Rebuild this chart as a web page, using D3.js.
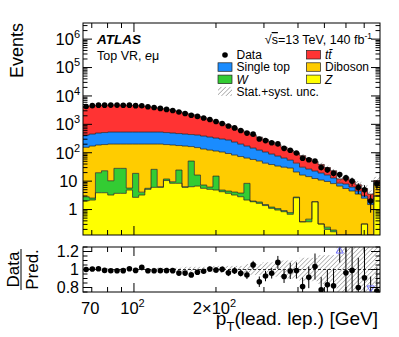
<!DOCTYPE html>
<html>
<head>
<meta charset="utf-8">
<script src="https://cdn.jsdelivr.net/npm/d3@7"></script>
<style>
  html, body { margin: 0; padding: 0; background: #fff; }
  svg { display: block; font-family: "Liberation Sans", Arial, Helvetica, sans-serif; }
</style>
</head>
<body>
<script>
//----------------- Data -----------------

const binEdges = [65, 68.5, 72.2, 76.0, 80.1, 84.4, 89.0, 93.7, 98.8, 104.1, 109.6, 115.5, 121.7, 128.3, 135.2, 142.4,
  150.1, 158.1, 166.6, 175.5, 185.0, 194.9, 205.3, 216.4, 228.0, 240.2, 253.1, 266.7, 281.0, 296.1, 312.0, 328.7,
  346.4, 365.0, 384.6, 405.2, 426.9, 449.9, 474.0, 499.5, 526.3, 554.5, 584.3, 615.6, 648.7, 683.5, 720.2, 758.8, 800];

const dataCounts = [4236, 4546, 4748, 4738, 4757, 4757, 4724, 4748, 4544, 4516, 4145, 3918, 3642, 3356, 3070, 2707,
  2419, 2096, 1901, 1676, 1482, 1257, 1077, 874, 749, 604, 491, 452, 306, 268, 226, 206,
  143, 122, 98, 64, 57, 51, 30, 25, 19, 17, 13, 10, 6, 5, 2, 8];

const ttbar = [3816, 4064, 4212, 4272, 4285, 4285, 4251, 4171, 4055, 3875, 3665, 3435, 3155, 2886, 2616, 2346,
  2065, 1793, 1540, 1323, 1118, 936, 771, 627, 521, 428, 351, 284, 230, 183, 146, 114.5,
  90, 69, 56, 48, 35.8, 26.7, 19.4, 13.7, 10.3, 3.5, 5.6, 3.9, 3.0, 2.5, 1.5, 1.4];

const singleTop = [265, 283, 307, 320, 333, 333, 333, 333, 333, 333, 333, 333, 333, 320, 307, 295,
  283, 272, 268, 252, 233, 214, 198, 186, 155, 128.5, 107, 88, 73, 63, 51.6, 42.5,
  34, 26.1, 22.1, 14.6, 12.2, 10.3, 8.4, 6.7, 4.7, 1.8, 2.4, 1.7, 1.0, 0.5, 0.5, 0.5];

const diboson = [152.2, 169.5, 167.2, 170.8, 191.7, 173.8, 173.8, 196.3, 183.2, 197.9, 196.4, 176, 195.7, 182.1, 177.5, 154.4,
  165.7, 114, 135.6, 127.7, 117.8, 99.9, 101.1, 89.5, 78.9, 69.7, 56.6, 56, 49.2, 41.5, 37.2, 32.9,
  30.1, 28.1, 18.2, 16.0, 14.0, 10.5, 10.6, 9.5, 8.0, 6.7, 5.5, 4.5, 3.5, 2.2, 1.5, 5.6];

const wJets = [0.78, 0.38, 15.9, 19.3, 7.06, 24.5, 24.5, 0.84, 16.1, 0.86, 0.46, 19.95, 0.3, 1.4, 1.1, 16.2,
  0.3, 44.6, 9.7, 1.7, 1.06, 10.2, 0.62, 0.76, 0.89, 0.99, 6.2, 0.11, 0.19, 0.12, 0.12, 0.12,
  0.08, 0.10, 0.15, 0, 0.09, 0, 0, 0.04, 0.025, 0, 0, 0, 0, 0, 0, 0];

const zJets = [2.04, 2.16, 3.9, 3.9, 3.24, 3.72, 3.72, 4.86, 2.69, 3.24, 5.14, 6.05, 6.05, 10.5, 8.4, 8.4,
  6.05, 6.35, 6.7, 5.6, 5.14, 4.86, 4.24, 3.72, 3.24, 2.82, 2.16, 1.88, 1.65, 1.38, 1.10, 0.96,
  0.84, 0.68, 2.60, 0.37, 0.37, 1.88, 0.31, 0.20, 0.165, 0, 0, 0, 0, 0.31, 0, 3];

// relative stat.+syst. uncertainty on the prediction
const relUnc = [0.015, 0.015, 0.015, 0.015, 0.015, 0.015, 0.015, 0.015, 0.015, 0.015, 0.015, 0.02, 0.02, 0.02, 0.02, 0.02,
  0.03, 0.03, 0.03, 0.03, 0.03, 0.04, 0.04, 0.04, 0.04, 0.04, 0.06, 0.06, 0.06, 0.08, 0.08, 0.08,
  0.1, 0.1, 0.1, 0.13, 0.13, 0.13, 0.16, 0.16, 0.16, 0.25, 0.25, 0.25, 0.35, 0.35, 0.35, 0.35];

// data error on the ratio
const ratioErr = [0.015, 0.015, 0.015, 0.015, 0.015, 0.015, 0.015, 0.015, 0.015, 0.015, 0.015, 0.015, 0.015, 0.015, 0.015, 0.021,
  0.021, 0.021, 0.021, 0.021, 0.029, 0.029, 0.029, 0.037, 0.037, 0.037, 0.045, 0.045, 0.058, 0.058, 0.058, 0.072,
  0.072, 0.09, 0.09, 0.10, 0.12, 0.145, 0.14, 0.17, 0.19, 0.34, 0.27, 0.32, 0.33, 0.4, 0.35, 0.26];

const yTickValues = [1, 10, 100, 1e3, 1e4, 1e5, 1e6];
const yTickLabels = [["1", ""], ["10", ""], ["10", "2"], ["10", "3"], ["10", "4"], ["10", "5"], ["10", "6"]];
const xMinorTicks = [70, 80, 90, 200, 300, 400, 500, 600, 700];
const xMajorTicks = [100];
const xTickValues = [70, 100, 200];
const xTickLabels = [["70", ""], ["10", "2"], ["2×10", "2"]];
const ratioTickValues = [0.8, 1, 1.2];
const ratioTickLabels = ["0.8", "1", "1.2"];

const sampleKeys = ["z", "w", "diboson", "singleTop", "ttbar"];
const sampleColors = { ttbar: "#ff3333", singleTop: "#1a8cff", diboson: "#ffcc00", w: "#33cc33", z: "#ffff00" };

//----------------- Layout -----------------

const width = 399;
const height = 337;
const left = 83, right = 380;
const mainTop = 23, mainBottom = 235;
const ratioTop = 247, ratioBottom = 292;

const x = d3.scaleLog().domain([65, 800]).range([left, right]);
const y = d3.scaleLog().domain([0.127, 3.7e6]).range([mainBottom, mainTop]).clamp(true);
const yr = d3.scaleLinear().domain([0.75, 1.25]).range([ratioBottom, ratioTop]);

const svg = d3.select("body").append("svg").attr("width", width).attr("height", height);
const defs = svg.append("defs");

defs.append("clipPath").attr("id", "clipMain").append("rect")
  .attr("x", left).attr("y", mainTop).attr("width", right - left).attr("height", mainBottom - mainTop);
defs.append("clipPath").attr("id", "clipRatio").append("rect")
  .attr("x", left).attr("y", ratioTop).attr("width", right - left).attr("height", ratioBottom - ratioTop);

const hatch = defs.append("pattern").attr("id", "hatch").attr("patternUnits", "userSpaceOnUse")
  .attr("width", 3.2).attr("height", 3.2).attr("patternTransform", "rotate(45)");
hatch.append("line").attr("x1", 0).attr("y1", 0).attr("x2", 0).attr("y2", 3.2)
  .attr("stroke", "#555").attr("stroke-width", 0.8);

//----------------- Stack -----------------

const rows = dataCounts.map((d, i) => ({ z: zJets[i], w: wJets[i], diboson: diboson[i], singleTop: singleTop[i], ttbar: ttbar[i] }));
const layers = d3.stack().keys(sampleKeys)(rows);
const total = layers[layers.length - 1].map((d) => d[1]);
const centers = dataCounts.map((d, i) => Math.sqrt(binEdges[i] * binEdges[i + 1]));
const n = dataCounts.length;
const safe = (v) => Math.max(v, 1e-3);

const mainG = svg.append("g").attr("clip-path", "url(#clipMain)");

layers.forEach((layer) => {
  const pts = binEdges.map((e, i) => ({ e: e, lo: layer[Math.min(i, n - 1)][0], hi: layer[Math.min(i, n - 1)][1] }));
  mainG.append("path")
    .attr("d", d3.area().curve(d3.curveStepAfter).x((d) => x(d.e)).y0((d) => y(safe(d.lo))).y1((d) => y(safe(d.hi)))(pts))
    .attr("fill", sampleColors[layer.key]);
});
layers.forEach((layer) => {
  const pts = binEdges.map((e, i) => ({ e: e, hi: layer[Math.min(i, n - 1)][1] }));
  mainG.append("path")
    .attr("d", d3.line().curve(d3.curveStepAfter).x((d) => x(d.e)).y((d) => y(safe(d.hi)))(pts))
    .attr("fill", "none").attr("stroke", "#222").attr("stroke-width", 0.7);
});

// uncertainty band
mainG.selectAll("rect.band").data(total).enter().append("rect")
  .attr("x", (d, i) => x(binEdges[i]))
  .attr("width", (d, i) => x(binEdges[i + 1]) - x(binEdges[i]))
  .attr("y", (d, i) => y(d * (1 + relUnc[i])))
  .attr("height", (d, i) => y(safe(d * (1 - relUnc[i]))) - y(d * (1 + relUnc[i])))
  .attr("fill", "url(#hatch)");

// data
mainG.selectAll("line.err").data(dataCounts).enter().append("line")
  .attr("x1", (d, i) => x(centers[i])).attr("x2", (d, i) => x(centers[i]))
  .attr("y1", (d, i) => y(d + ratioErr[i] * total[i]))
  .attr("y2", (d, i) => y(safe(d - ratioErr[i] * total[i])))
  .attr("stroke", "#000").attr("stroke-width", 1);
mainG.selectAll("circle.data").data(dataCounts).enter().append("circle")
  .attr("cx", (d, i) => x(centers[i])).attr("cy", (d) => y(d)).attr("r", 2.8).attr("fill", "#000");

//----------------- Ratio panel -----------------

const ratioG = svg.append("g").attr("clip-path", "url(#clipRatio)");
ratioG.selectAll("rect.band").data(relUnc).enter().append("rect")
  .attr("x", (d, i) => x(binEdges[i]))
  .attr("width", (d, i) => x(binEdges[i + 1]) - x(binEdges[i]))
  .attr("y", (d) => yr(1 + d))
  .attr("height", (d) => yr(1 - d) - yr(1 + d))
  .attr("fill", "url(#hatch)");
ratioG.append("line").attr("x1", left).attr("x2", right).attr("y1", yr(1)).attr("y2", yr(1))
  .attr("stroke", "#000").attr("stroke-width", 0.8).attr("stroke-dasharray", "3,2");

const ratios = dataCounts.map((d, i) => d / total[i]);
ratioG.selectAll("line.err").data(ratios).enter().append("line")
  .attr("x1", (d, i) => x(centers[i])).attr("x2", (d, i) => x(centers[i]))
  .attr("y1", (d, i) => yr(d + ratioErr[i])).attr("y2", (d, i) => yr(d - ratioErr[i]))
  .attr("stroke", "#000").attr("stroke-width", 1);
ratioG.selectAll("circle.r").data(ratios.map((r, i) => ({ r, i })).filter((d) => d.r >= 0.75 && d.r <= 1.25)).enter()
  .append("circle").attr("cx", (d) => x(centers[d.i])).attr("cy", (d) => yr(d.r)).attr("r", 2.8).attr("fill", "#000");

const tri = d3.symbol().type(d3.symbolTriangle).size(22);
ratios.forEach((r, i) => {
  if (r > 1.25) {
    svg.append("path").attr("d", tri()).attr("transform", `translate(${x(centers[i])},${ratioTop + 4})`)
      .attr("fill", "none").attr("stroke", "#7070ff").attr("stroke-width", 1);
  } else if (r < 0.75) {
    svg.append("path").attr("d", tri()).attr("transform", `translate(${x(centers[i])},${ratioBottom - 4}) rotate(180)`)
      .attr("fill", "none").attr("stroke", "#7070ff").attr("stroke-width", 1);
  }
});

//----------------- Frames and ticks -----------------

[[mainTop, mainBottom], [ratioTop, ratioBottom]].forEach(([t, b]) => {
  svg.append("rect").attr("x", left).attr("y", t).attr("width", right - left).attr("height", b - t)
    .attr("fill", "none").attr("stroke", "#000").attr("stroke-width", 1);
  const xt = svg.append("g").attr("stroke", "#000").attr("stroke-width", 1);
  xMinorTicks.concat(xMajorTicks).forEach((v) => {
    const len = xMajorTicks.includes(v) ? 9 : 5;
    xt.append("line").attr("x1", x(v)).attr("x2", x(v)).attr("y1", b).attr("y2", b - len);
    xt.append("line").attr("x1", x(v)).attr("x2", x(v)).attr("y1", t).attr("y2", t + len);
  });
});

const yt = svg.append("g").attr("stroke", "#000").attr("stroke-width", 1);
for (let dec = -1; dec <= 6; dec++) {
  for (let m = 1; m <= 9; m++) {
    const v = m * Math.pow(10, dec);
    if (v < 0.127 || v > 3.7e6) continue;
    const len = m === 1 ? 9 : 4.5;
    yt.append("line").attr("x1", left).attr("x2", left + len).attr("y1", y(v)).attr("y2", y(v));
    yt.append("line").attr("x1", right).attr("x2", right - len).attr("y1", y(v)).attr("y2", y(v));
  }
}
d3.range(0.75, 1.2501, 0.05).forEach((v) => {
  const major = ratioTickValues.some((t) => Math.abs(t - v) < 1e-6);
  const len = major ? 9 : 4.5;
  yt.append("line").attr("x1", left).attr("x2", left + len).attr("y1", yr(v)).attr("y2", yr(v));
  yt.append("line").attr("x1", right).attr("x2", right - len).attr("y1", yr(v)).attr("y2", yr(v));
});

//----------------- Tick labels -----------------

yTickValues.forEach((v, i) => {
  const [base, sup] = yTickLabels[i];
  const t = svg.append("text").attr("x", sup ? 80 : 77.5).attr("y", y(v)).attr("dy", "0.36em")
    .attr("text-anchor", "end").attr("font-size", 16.5);
  t.append("tspan").text(base);
  if (sup) t.append("tspan").attr("font-size", 11).attr("dy", -7).text(sup);
});

xTickValues.forEach((v, i) => {
  const [base, sup] = xTickLabels[i];
  const t = svg.append("text").attr("x", x(v) - 1.5).attr("y", 314).attr("text-anchor", "middle").attr("font-size", 16.5);
  t.append("tspan").text(base);
  if (sup) t.append("tspan").attr("font-size", 11).attr("dy", -7).text(sup);
});

ratioTickValues.forEach((v, i) => {
  svg.append("text").attr("x", 79).attr("y", yr(v)).attr("dy", "0.36em")
    .attr("text-anchor", "end").attr("font-size", 16).text(ratioTickLabels[i]);
});

//----------------- Axis titles -----------------

svg.append("text").attr("transform", `translate(22.5,${mainTop}) rotate(-90)`)
  .attr("text-anchor", "end").attr("font-size", 18).text("Events");

svg.append("text").attr("transform", `translate(18.5,269.5) rotate(-90)`)
  .attr("text-anchor", "middle").attr("font-size", 17).text("Data");
svg.append("line").attr("x1", 21).attr("x2", 21).attr("y1", 249).attr("y2", 290)
  .attr("stroke", "#000").attr("stroke-width", 1);
svg.append("text").attr("transform", `translate(37.5,269.5) rotate(-90)`)
  .attr("text-anchor", "middle").attr("font-size", 17).text("Pred.");

const xTitle = svg.append("text").attr("x", right - 2).attr("y", 325).attr("text-anchor", "end").attr("font-size", 19);
xTitle.append("tspan").text("p");
xTitle.append("tspan").attr("font-size", 13).attr("dy", 6).text("T");
xTitle.append("tspan").attr("dy", -6).text("(lead. lep.) [GeV]");

//----------------- Labels and legend -----------------

svg.append("text").attr("x", 97).attr("y", 43.5).attr("font-size", 13.5)
  .attr("font-weight", "bold").attr("font-style", "italic").text("ATLAS");
const region = svg.append("text").attr("x", 97).attr("y", 60).attr("font-size", 12.5);
region.append("tspan").text("Top VR, ");
region.append("tspan").attr("font-style", "italic").text("e");
region.append("tspan").text("μ");

const lumi = svg.append("text").attr("x", 372).attr("y", 44).attr("text-anchor", "end").attr("font-size", 12.5);
lumi.append("tspan").text("√");
lumi.append("tspan").attr("text-decoration", "overline").text("s");
lumi.append("tspan").text("=13 TeV, 140 fb");
lumi.append("tspan").attr("font-size", 8.5).attr("dy", -5).text("-1");

const legend = svg.append("g").attr("font-size", 12);
const legendItems = [
  { col: 0, row: 0, type: "dot", label: "Data" },
  { col: 1, row: 0, key: "ttbar", label: "tt̄", italic: true },
  { col: 0, row: 1, key: "singleTop", label: "Single top" },
  { col: 1, row: 1, key: "diboson", label: "Diboson" },
  { col: 0, row: 2, key: "w", label: "W", italic: true },
  { col: 1, row: 2, key: "z", label: "Z", italic: true },
  { col: 0, row: 3, type: "hatch", label: "Stat.+syst. unc." },
];
legendItems.forEach((it) => {
  const bx = it.col === 0 ? 218 : 306.5;
  const by = 59 + it.row * 12.3;
  if (it.type === "dot") {
    legend.append("circle").attr("cx", bx + 7).attr("cy", by - 4).attr("r", 2.8).attr("fill", "#000");
  } else if (it.type === "hatch") {
    legend.append("rect").attr("x", bx).attr("y", by - 9).attr("width", 14).attr("height", 9).attr("fill", "url(#hatch)");
  } else {
    legend.append("rect").attr("x", bx).attr("y", by - 8.5).attr("width", 14).attr("height", 8.5)
      .attr("fill", sampleColors[it.key]).attr("stroke", "#222").attr("stroke-width", 0.7);
  }
  legend.append("text").attr("x", bx + 18.5).attr("y", by)
    .attr("font-style", it.italic ? "italic" : "normal").text(it.label);
});
</script>
</body>
</html>
